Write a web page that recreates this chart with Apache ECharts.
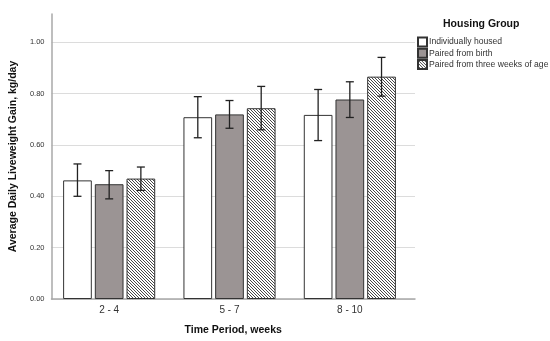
<!DOCTYPE html>
<html>
<head>
<meta charset="utf-8">
<script src="https://cdn.jsdelivr.net/npm/echarts@6/dist/echarts.min.js"></script>
<style>html,body{margin:0;padding:0;background:#fff}#c{width:550px;height:341px}</style>
</head>
<body>
<div id="c"></div>
<script>
const categories = ['2 - 4', '5 - 7', '8 - 10'];
const seriesNames = ['Individually housed', 'Paired from birth', 'Paired from three weeks of age'];
const individually = [0.462, 0.708, 0.717];
const pairedBirth = [0.447, 0.719, 0.777];
const pairedThree = [0.469, 0.743, 0.866];
const errLow = [[0.400, 0.628, 0.617], [0.390, 0.665, 0.707], [0.423, 0.659, 0.790]];
const errHigh = [[0.526, 0.788, 0.816], [0.500, 0.773, 0.846], [0.514, 0.828, 0.941]];
const yTicks = [0, 0.2, 0.4, 0.6, 0.8, 1.0];

const FONT = '"Liberation Sans", Arial, sans-serif';
const BAR_W = 28.7, BAR_GAP = 3;

// hatch pattern
const S = 3;
const pc = document.createElement('canvas');
pc.width = S; pc.height = S;
const g = pc.getContext('2d');
g.fillStyle = '#fff'; g.fillRect(0, 0, S, S);
g.strokeStyle = '#333'; g.lineWidth = 0.9;
g.beginPath();
g.moveTo(-1, -1); g.lineTo(S + 1, S + 1);
g.moveTo(-1, S - 1); g.lineTo(1, S + 1);
g.moveTo(S - 1, -1); g.lineTo(S + 1, 1);
g.stroke();

const colors = ['#ffffff', '#9b9494', { image: pc, repeat: 'repeat' }];
const values = [individually, pairedBirth, pairedThree];

const chart = echarts.init(document.getElementById('c'), null, { renderer: 'canvas' });

const series = values.map((v, i) => ({
  name: seriesNames[i], type: 'bar', xAxisIndex: 1, yAxisIndex: 1,
  data: v, barWidth: BAR_W, barGap: (BAR_GAP / BAR_W * 100) + '%',
  itemStyle: { color: colors[i], borderColor: '#333', borderWidth: 1 },
  emphasis: { disabled: true }, z: 2
}));

values.forEach((v, i) => {
  series.push({
    type: 'custom', xAxisIndex: 1, yAxisIndex: 1, z: 5, silent: true,
    data: categories.map((c, k) => [k, errLow[i][k], errHigh[i][k]]),
    encode: { x: 0, y: [1, 2] },
    renderItem: function (params, api) {
      const hi = api.coord([api.value(0), api.value(2)]);
      const lo = api.coord([api.value(0), api.value(1)]);
      const x = hi[0] + (i - 1) * (BAR_W + BAR_GAP);
      const cw = 4;
      const st = { stroke: '#222', lineWidth: 1.3 };
      return { type: 'group', children: [
        { type: 'line', shape: { x1: x, y1: hi[1], x2: x, y2: lo[1] }, style: st },
        { type: 'line', shape: { x1: x - cw, y1: hi[1], x2: x + cw, y2: hi[1] }, style: st },
        { type: 'line', shape: { x1: x - cw, y1: lo[1], x2: x + cw, y2: lo[1] }, style: st }
      ]};
    }
  });
});

const splitColors = yTicks.map(() => '#dcdcdc').concat(['rgba(0,0,0,0)']);

chart.setOption({
  animation: false,
  grid: [
    { left: 43, right: 135, top: 14, bottom: 42 },
    { left: 49, right: 140, top: 14, bottom: 42 }
  ],
  xAxis: [
    { type: 'category', gridIndex: 0, data: categories,
      axisLine: { show: true, lineStyle: { color: '#a8a8a8', width: 1.5 } },
      axisTick: { show: false }, axisLabel: { show: false },
      name: 'Time Period, weeks', nameLocation: 'middle', nameGap: 26,
      nameTextStyle: { fontFamily: FONT, fontSize: 10.5, fontWeight: 'bold', color: '#111' } },
    { type: 'category', gridIndex: 1, data: categories,
      axisLine: { show: false }, axisTick: { show: false },
      axisLabel: { fontFamily: FONT, fontSize: 10, color: '#333', margin: 6 } }
  ],
  yAxis: [
    { type: 'value', gridIndex: 0, min: 0, max: 1.11, interval: 0.2,
      axisLine: { show: true, lineStyle: { color: '#a8a8a8', width: 1.5 } },
      axisTick: { show: false },
      axisLabel: { fontFamily: FONT, fontSize: 7.5, color: '#333', margin: 7, showMaxLabel: false,
        formatter: v => v.toFixed(2) },
      splitLine: { show: true, lineStyle: { color: splitColors, width: 1.2 } },
      name: 'Average Daily Liveweight Gain, kg/day', nameLocation: 'middle', nameGap: 26,
      nameTextStyle: { fontFamily: FONT, fontSize: 10.5, fontWeight: 'bold', color: '#111' } },
    { type: 'value', gridIndex: 1, min: 0, max: 1.11, show: false, splitLine: { show: false } }
  ],
  legend: {
    data: seriesNames, orient: 'vertical', left: 417, top: 36.5, padding: 0,
    itemWidth: 9, itemHeight: 9, itemGap: 0.3, icon: 'rect',
    textStyle: { fontFamily: FONT, fontSize: 8.6, color: '#333', lineHeight: 9, padding: [0, 0, 0, -3] },
    selectedMode: false
  },
  graphic: [{
    type: 'text', left: 443, top: 19,
    style: { text: 'Housing Group', font: 'bold 10.5px ' + FONT, fill: '#111' }
  }],
  series: series
});
</script>
</body>
</html>
